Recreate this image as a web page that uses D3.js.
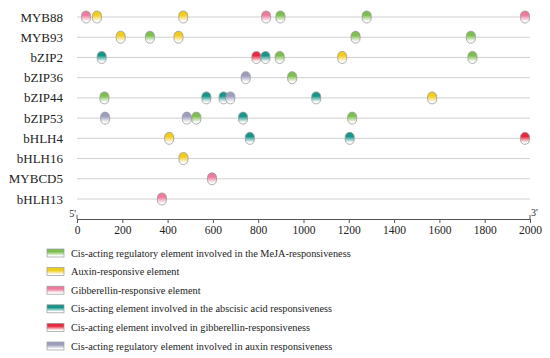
<!DOCTYPE html>
<html>
<head>
<meta charset="utf-8">
<script src="https://cdn.jsdelivr.net/npm/d3@7"></script>
<style>
  body { margin: 0; background: #fff; }
  svg text { font-family: "Liberation Serif", "Times New Roman", serif; fill: #222; }
</style>
</head>
<body>
<svg id="chart" width="550" height="358"></svg>
<script>
// Genes (rows, top to bottom)
const genes = ["MYB88", "MYB93", "bZIP2", "bZIP36", "bZIP44", "bZIP53", "bHLH4", "bHLH16", "MYBCD5", "bHLH13"];

// Element types (legend order)
const elementTypes = ["meja", "auxin", "gibberellin", "aba", "gibresp", "auxinresp"];
const elementLabels = [
    "Cis-acting regulatory element involved in the MeJA-responsiveness",
    "Auxin-responsive element",
    "Gibberellin-responsive element",
    "Cis-acting element involved in the abscisic acid responsiveness",
    "Cis-acting element involved in gibberellin-responsiveness",
    "Cis-acting regulatory element involved in auxin responsiveness"
];
const elementColors = ["#7dbf4f", "#f2cc1c", "#ee7a9c", "#16958a", "#e8283f", "#9d9dbd"];

// Element positions (bp from 5') per gene
const sites = [
    { gene: "MYB88", type: "gibberellin", pos: 40 },
    { gene: "MYB88", type: "auxin", pos: 88 },
    { gene: "MYB88", type: "auxin", pos: 469 },
    { gene: "MYB88", type: "gibberellin", pos: 835 },
    { gene: "MYB88", type: "meja", pos: 898 },
    { gene: "MYB88", type: "meja", pos: 1279 },
    { gene: "MYB88", type: "gibberellin", pos: 1978 },
    { gene: "MYB93", type: "auxin", pos: 193 },
    { gene: "MYB93", type: "meja", pos: 322 },
    { gene: "MYB93", type: "auxin", pos: 448 },
    { gene: "MYB93", type: "meja", pos: 1230 },
    { gene: "MYB93", type: "meja", pos: 1739 },
    { gene: "bZIP2", type: "aba", pos: 109 },
    { gene: "bZIP2", type: "gibresp", pos: 792 },
    { gene: "bZIP2", type: "aba", pos: 832 },
    { gene: "bZIP2", type: "meja", pos: 895 },
    { gene: "bZIP2", type: "auxin", pos: 1171 },
    { gene: "bZIP2", type: "meja", pos: 1746 },
    { gene: "bZIP36", type: "auxinresp", pos: 745 },
    { gene: "bZIP36", type: "meja", pos: 950 },
    { gene: "bZIP44", type: "meja", pos: 121 },
    { gene: "bZIP44", type: "aba", pos: 571 },
    { gene: "bZIP44", type: "aba", pos: 647 },
    { gene: "bZIP44", type: "auxinresp", pos: 677 },
    { gene: "bZIP44", type: "aba", pos: 1056 },
    { gene: "bZIP44", type: "auxin", pos: 1568 },
    { gene: "bZIP53", type: "auxinresp", pos: 124 },
    { gene: "bZIP53", type: "auxinresp", pos: 485 },
    { gene: "bZIP53", type: "meja", pos: 527 },
    { gene: "bZIP53", type: "aba", pos: 733 },
    { gene: "bZIP53", type: "meja", pos: 1215 },
    { gene: "bHLH4", type: "auxin", pos: 407 },
    { gene: "bHLH4", type: "aba", pos: 763 },
    { gene: "bHLH4", type: "aba", pos: 1204 },
    { gene: "bHLH4", type: "gibresp", pos: 1978 },
    { gene: "bHLH16", type: "auxin", pos: 470 },
    { gene: "MYBCD5", type: "gibberellin", pos: 596 },
    { gene: "bHLH13", type: "gibberellin", pos: 375 }
];

const xTicks = [0, 200, 400, 600, 800, 1000, 1200, 1400, 1600, 1800, 2000];

const svg = d3.select("#chart");

// Scales
const x = d3.scaleLinear().domain([0, 2000]).range([77, 530]);
const y = d3.scalePoint().domain(genes).range([17, 199]);
const color = d3.scaleOrdinal().domain(elementTypes).range(elementColors);

// Gradients: colour on top fading to white at bottom
const defs = svg.append("defs");
elementTypes.forEach(t => {
    const g = defs.append("linearGradient")
        .attr("id", "grad-" + t)
        .attr("x1", 0).attr("y1", 0).attr("x2", 0).attr("y2", 1);
    g.append("stop").attr("offset", "0%").attr("stop-color", color(t));
    g.append("stop").attr("offset", "35%").attr("stop-color", color(t));
    g.append("stop").attr("offset", "85%").attr("stop-color", "#ffffff");
    g.append("stop").attr("offset", "100%").attr("stop-color", "#ffffff");
});

// Row lines
svg.append("g").selectAll("line")
    .data(genes)
    .enter().append("line")
    .attr("x1", x(0)).attr("x2", x(2000))
    .attr("y1", d => y(d)).attr("y2", d => y(d))
    .attr("stroke", "#cfcfcf")
    .attr("stroke-width", 1);

// Gene labels
svg.append("g").selectAll("text")
    .data(genes)
    .enter().append("text")
    .attr("x", 63)
    .attr("y", d => y(d))
    .attr("dy", "0.35em")
    .attr("text-anchor", "end")
    .style("font-size", "13px")
    .text(d => d);

// Element markers (pill shapes)
svg.append("g").selectAll("rect")
    .data(sites)
    .enter().append("rect")
    .attr("x", d => x(d.pos) - 4.5)
    .attr("y", d => y(d.gene) - 6)
    .attr("width", 9)
    .attr("height", 12)
    .attr("rx", 4.5)
    .attr("ry", 4.5)
    .attr("fill", d => `url(#grad-${d.type})`)
    .attr("stroke", "#9a9a9a")
    .attr("stroke-width", 0.8);

// Axis
const axisY = 219;
const axis = d3.axisBottom(x)
    .tickValues(xTicks)
    .tickSize(4)
    .tickPadding(3)
    .tickFormat(d3.format("d"));

const axisG = svg.append("g")
    .attr("transform", `translate(0,${axisY})`)
    .call(axis)
    .attr("font-family", null)
    .attr("font-size", null);
axisG.select(".domain").attr("stroke", "#555");
axisG.selectAll(".tick line").attr("stroke", "#555");
axisG.selectAll(".tick text")
    .style("font-size", "11.5px")
    .attr("fill", "#222");

// End caps and 5'/3' labels
svg.append("line")
    .attr("x1", x(0)).attr("x2", x(0))
    .attr("y1", axisY - 4).attr("y2", axisY)
    .attr("stroke", "#555");
svg.append("line")
    .attr("x1", x(2000)).attr("x2", x(2000))
    .attr("y1", axisY - 4).attr("y2", axisY)
    .attr("stroke", "#555");
svg.append("text")
    .attr("x", x(0) - 1).attr("y", axisY - 2)
    .attr("text-anchor", "end")
    .style("font-size", "10px")
    .text("5'");
svg.append("text")
    .attr("x", x(2000) + 1).attr("y", axisY - 3)
    .attr("text-anchor", "start")
    .style("font-size", "10px")
    .text("3'");

// Legend
const legend = svg.append("g").selectAll("g")
    .data(elementTypes)
    .enter().append("g")
    .attr("transform", (d, i) => `translate(47,${253 + i * 18.6})`);

legend.append("rect")
    .attr("x", 0).attr("y", -4)
    .attr("width", 17).attr("height", 8)
    .attr("fill", d => `url(#grad-${d})`)
    .attr("stroke", "#9a9a9a")
    .attr("stroke-width", 0.7);

legend.append("text")
    .attr("x", 24)
    .attr("y", 0)
    .attr("dy", "0.35em")
    .style("font-size", "10.3px")
    .text((d, i) => elementLabels[i]);
</script>
</body>
</html>
